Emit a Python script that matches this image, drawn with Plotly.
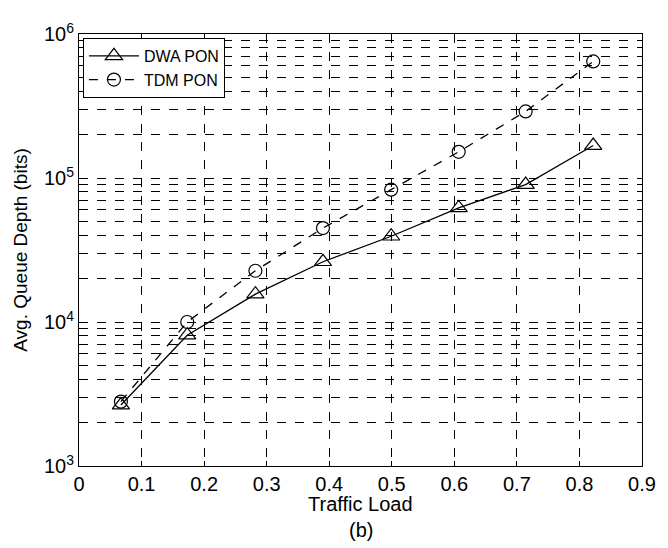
import plotly.graph_objects as go

traffic_load = [0.067, 0.173, 0.282, 0.39, 0.499, 0.607, 0.714, 0.822]
dwa_pon = [2650, 8100, 15600, 26200, 39400, 62000, 90000, 168000]
tdm_pon = [2800, 10000, 22700, 44900, 83000, 152000, 290000, 645000]

x_ticks = [0, 0.1, 0.2, 0.3, 0.4, 0.5, 0.6, 0.7, 0.8, 0.9]
x_tick_labels = ["0", "0.1", "0.2", "0.3", "0.4", "0.5", "0.6", "0.7", "0.8", "0.9"]
decades = [1e3, 1e4, 1e5, 1e6]
decade_labels = ["10<sup>3</sup>", "10<sup>4</sup>", "10<sup>5</sup>", "10<sup>6</sup>"]

y_vals, y_text = [], []
for i, d in enumerate(decades):
    y_vals.append(d)
    y_text.append(decade_labels[i])
    if d < 1e6:
        for m in range(2, 10):
            y_vals.append(d * m)
            y_text.append("")

FAM = "Liberation Sans, Arial, sans-serif"
font = dict(family=FAM, size=20, color="black")

fig = go.Figure()
fig.add_trace(go.Scatter(
    x=traffic_load, y=dwa_pon, name="DWA PON", mode="lines+markers",
    line=dict(color="black", width=1.3, dash="solid"),
    marker=dict(symbol="triangle-up-open", size=15, color="black", line=dict(width=1.2, color="black")),
))
fig.add_trace(go.Scatter(
    x=traffic_load, y=tdm_pon, name="TDM PON", mode="lines+markers",
    line=dict(color="black", width=1.3, dash="dash"),
    marker=dict(symbol="circle-open", size=13, color="black", line=dict(width=1.2, color="black")),
))

fig.update_layout(
    width=660, height=540,
    margin=dict(l=62, r=16, t=19, b=82),
    paper_bgcolor="white", plot_bgcolor="white",
    font=font,
    showlegend=True,
    legend=dict(x=0.007, y=0.991, xanchor="left", yanchor="top",
                bgcolor="white", bordercolor="black", borderwidth=1,
                font=dict(family=FAM, size=16, color="black"),
                tracegroupgap=0, itemwidth=50),
    annotations=[
        dict(text="Traffic Load", x=0.5, y=-0.089, xref="paper", yref="paper",
             showarrow=False, xanchor="center", yanchor="middle",
             font=dict(family=FAM, size=20, color="black")),
        dict(text="(b)", x=0.5, y=-0.148, xref="paper", yref="paper",
             showarrow=False, xanchor="center", yanchor="middle",
             font=dict(family=FAM, size=20, color="black")),
    ],
)
fig.update_xaxes(
    range=[0, 0.9], tickvals=x_ticks, ticktext=x_tick_labels,
    showgrid=True, gridcolor="black", griddash="dash", gridwidth=1,
    showline=True, linecolor="black", linewidth=1, mirror="ticks",
    ticks="inside", ticklen=5, tickcolor="black",
    zeroline=False, tickfont=dict(family=FAM, size=20, color="black"),
)
fig.update_yaxes(
    type="log", range=[3, 6], tickvals=y_vals, ticktext=y_text,
    showgrid=True, gridcolor="black", griddash="dash", gridwidth=1,
    showline=True, linecolor="black", linewidth=1, mirror="ticks",
    ticks="inside", ticklen=5, tickcolor="black",
    zeroline=False, tickfont=dict(family=FAM, size=20, color="black"),
    title=dict(text="Avg. Queue Depth (bits)", font=dict(family=FAM, size=19, color="black"), standoff=11),
)

fig.write_html("out.html")
